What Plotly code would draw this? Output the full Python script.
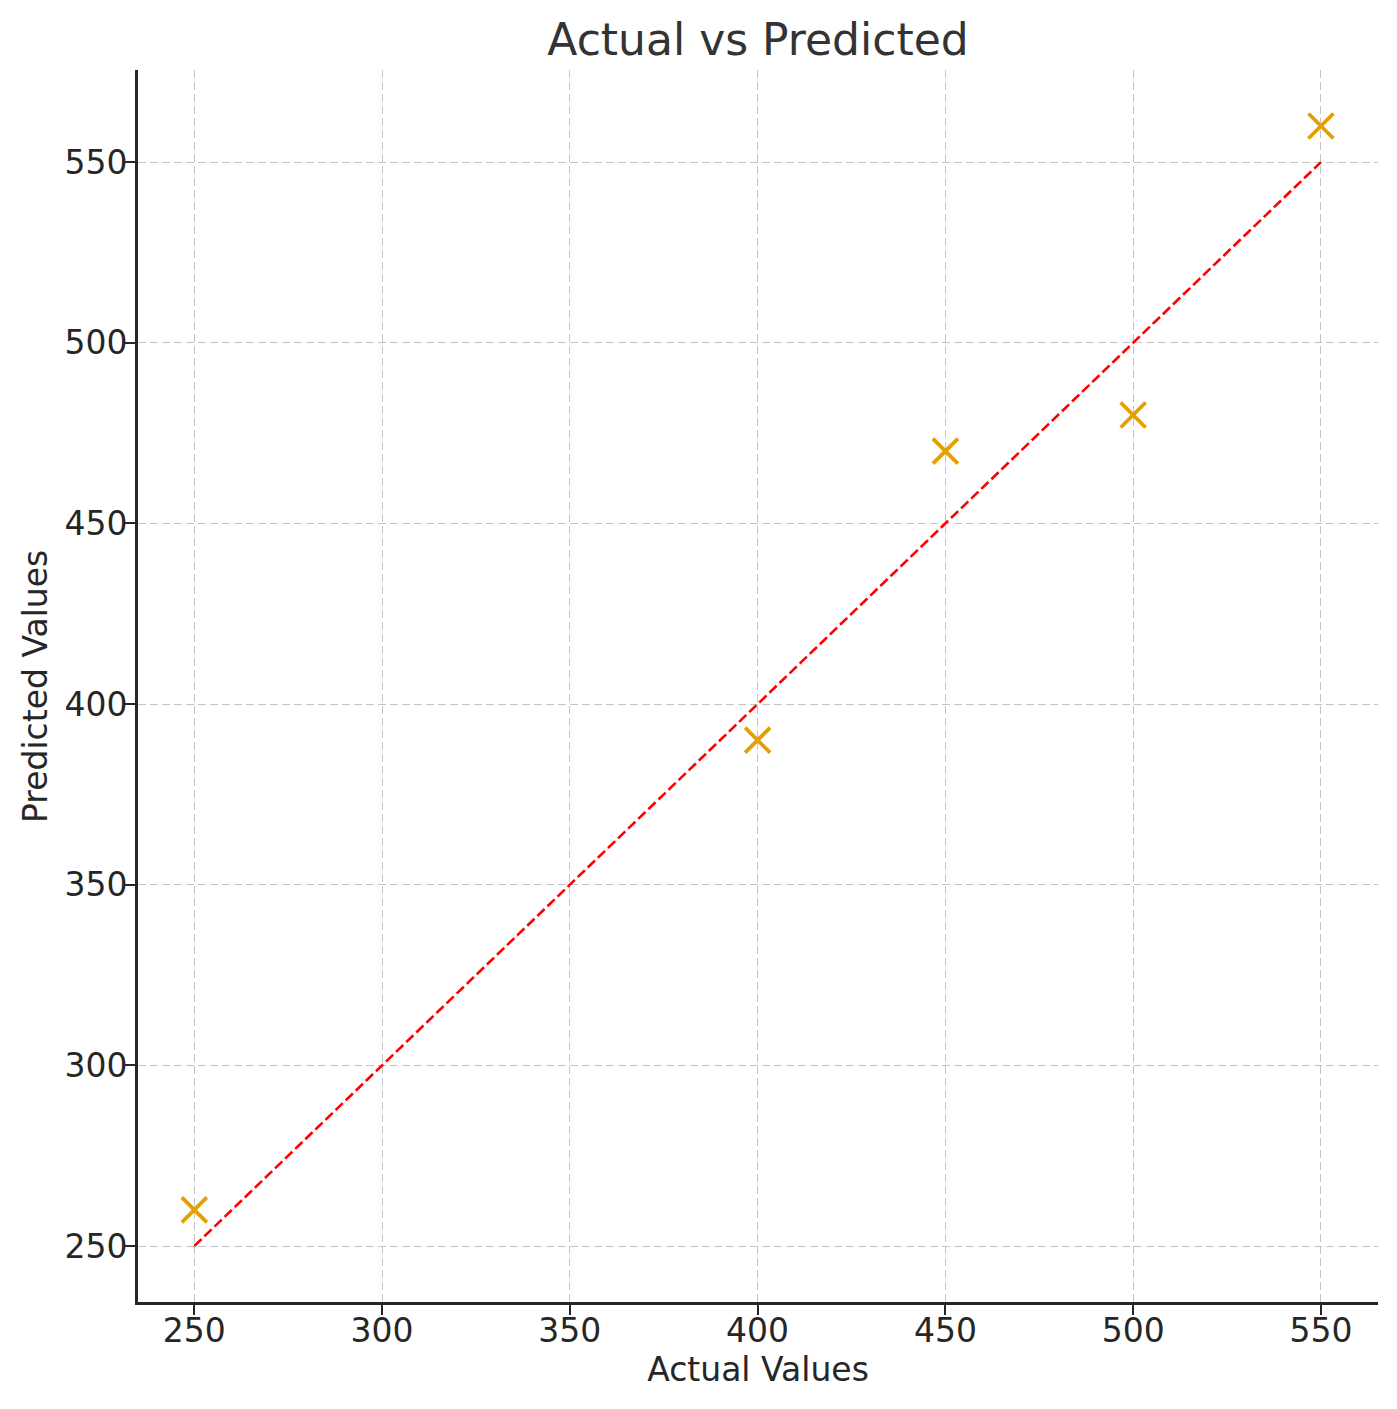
import plotly.graph_objects as go

actual = [250, 400, 450, 500, 550]
predicted = [260, 390, 470, 480, 560]
ideal = [250, 550]
tick_vals = [250, 300, 350, 400, 450, 500, 550]

TXT = "#262626"
fig = go.Figure()
fig.add_trace(go.Scatter(
    x=actual, y=predicted, mode="markers",
    marker=dict(symbol="x-thin-open", size=25, color="#E69F00",
                line=dict(color="#E69F00", width=3.8)),
    showlegend=False))
fig.add_trace(go.Scatter(
    x=ideal, y=ideal, mode="lines",
    line=dict(color="#FF0000", width=2.6, dash="10px,4px"),
    showlegend=False))

axis_common = dict(
    showline=True, linecolor=TXT, linewidth=2.6,
    ticks="outside", ticklen=10, tickwidth=2.2, tickcolor=TXT,
    tickfont=dict(family="DejaVu Sans", size=33, color=TXT),
    showgrid=True, gridcolor="#c4c4c4", gridwidth=1.4, griddash="8px,4px",
    zeroline=False, tickvals=tick_vals, mirror=False,
)
fig.update_xaxes(range=[235, 565.2], ticklabelstandoff=-12,
                 title=dict(text="Actual Values", font=dict(family="DejaVu Sans", size=33, color=TXT), standoff=2),
                 **axis_common)
fig.update_yaxes(range=[234.5, 575.5], ticklabelstandoff=-9, **axis_common)

fig.add_annotation(text="Predicted Values", textangle=-90, xref="paper", yref="paper",
                   x=-0.0831, y=0.5, xanchor="center", yanchor="middle", showarrow=False,
                   font=dict(family="DejaVu Sans", size=33, color=TXT))

fig.update_layout(
    width=1381, height=1393,
    margin=dict(l=130, r=11, t=62, b=99),
    plot_bgcolor="white", paper_bgcolor="white",
    title=dict(text="Actual vs Predicted", x=0.5, xref="paper", y=1 - 32 / 1393, yanchor="middle",
               font=dict(family="DejaVu Sans", size=44, color="#333333")),
)
fig.write_html("out.html")
